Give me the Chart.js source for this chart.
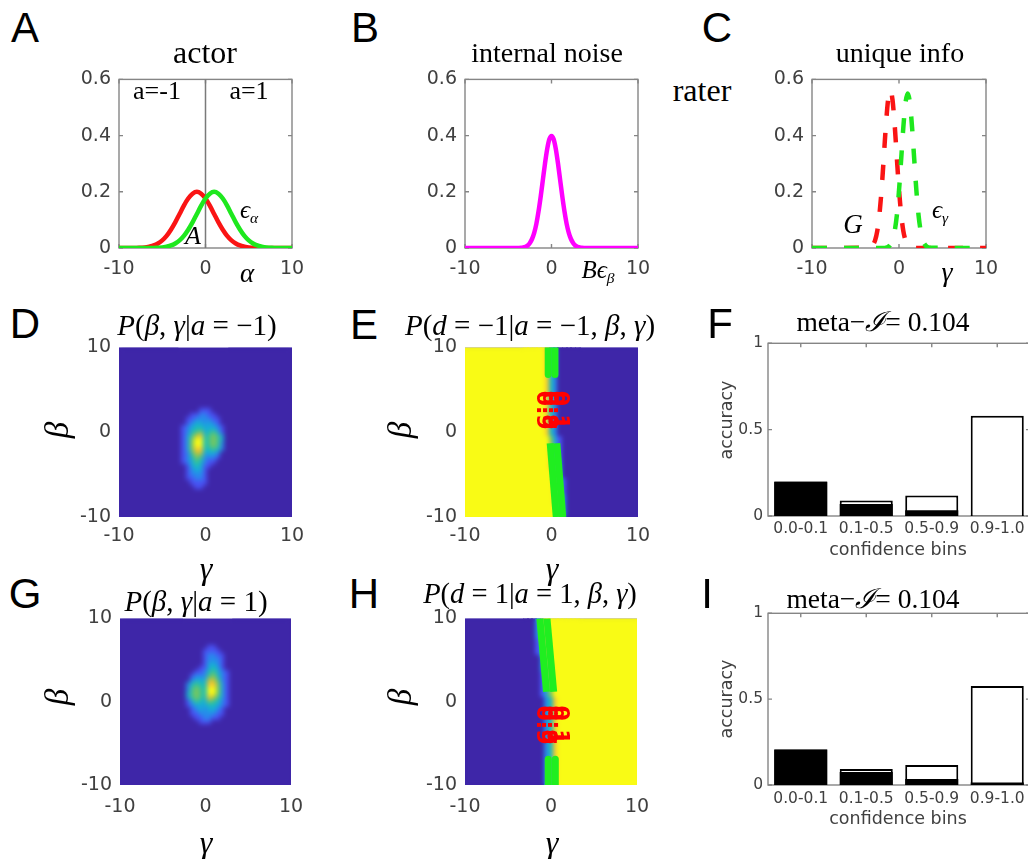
<!DOCTYPE html>
<html><head><meta charset="utf-8">
<script src="https://cdn.jsdelivr.net/npm/chart.js@4.4.0/dist/chart.umd.min.js"></script>
<style>
body{margin:0;background:#fff;width:1028px;height:859px;overflow:hidden;position:relative;}
canvas{position:absolute;}
.c{position:absolute;transform:translate(-50%,-50%);white-space:nowrap;line-height:1;}
.r{transform:translate(-50%,-50%) rotate(-90deg);}
.L{font-family:"Liberation Sans",Arial,sans-serif;font-size:42px;color:#000;}
.s{font-family:"Liberation Serif","Times New Roman",serif;color:#000;}
.g{font-family:"DejaVu Sans",sans-serif;color:#404040;}
sub{font-size:0.62em;vertical-align:-0.3em;}
</style></head><body>
<div class="c L" style="left:25px;top:28px">A</div>
<div class="c L" style="left:365px;top:28px">B</div>
<div class="c L" style="left:717px;top:28px">C</div>
<div class="c L" style="left:25px;top:324px">D</div>
<div class="c L" style="left:364px;top:325px">E</div>
<div class="c L" style="left:720px;top:324px">F</div>
<div class="c L" style="left:25px;top:594px">G</div>
<div class="c L" style="left:364px;top:594px">H</div>
<div class="c L" style="left:707px;top:594px">I</div>

<div class="c s" style="left:205px;top:52px;font-size:32px">actor</div>
<div class="c s" style="left:547px;top:53px;font-size:28px">internal noise</div>
<div class="c s" style="left:900px;top:53px;font-size:28px">unique info</div>
<div class="c s" style="left:702px;top:90px;font-size:32px">rater</div>
<div class="c s" style="left:157px;top:91px;font-size:26px">a=-1</div>
<div class="c s" style="left:249px;top:91px;font-size:26px">a=1</div>
<div class="c s" style="left:193px;top:236px;font-size:26px"><i>A</i></div>
<div class="c s" style="left:249px;top:211px;font-size:25px"><i>ϵ</i><sub><i>α</i></sub></div>
<div class="c s" style="left:247px;top:273px;font-size:27px"><i>α</i></div>
<div class="c s" style="left:598px;top:271px;font-size:25px"><i>B</i><i>ϵ</i><sub><i>β</i></sub></div>
<div class="c s" style="left:853px;top:224px;font-size:27px"><i>G</i></div>
<div class="c s" style="left:940px;top:211px;font-size:25px"><i>ϵ</i><sub><i>γ</i></sub></div>
<div class="c s" style="left:947px;top:272px;font-size:28px"><i>γ</i></div>

<div class="c s" style="left:197px;top:325px;font-size:29px"><i>P</i>(<i>β</i>, <i>γ</i>|<i>a</i> = −1)</div>
<div class="c s" style="left:530px;top:325px;font-size:29px"><i>P</i>(<i>d</i> = −1|<i>a</i> = −1, <i>β</i>, <i>γ</i>)</div>
<div class="c s" style="left:883px;top:322px;font-size:27.5px">meta−<i>ℐ</i>= 0.104</div>
<div class="c s" style="left:196px;top:601px;font-size:29px"><i>P</i>(<i>β</i>, <i>γ</i>|<i>a</i> = 1)</div>
<div class="c s" style="left:530px;top:594px;font-size:28.5px"><i>P</i>(<i>d</i> = 1|<i>a</i> = 1, <i>β</i>, <i>γ</i>)</div>
<div class="c s" style="left:873px;top:599px;font-size:27.5px">meta−<i>ℐ</i>= 0.104</div>

<div class="c s r" style="left:57px;top:430px;font-size:33px"><i>β</i></div>
<div class="c s r" style="left:400px;top:430px;font-size:33px"><i>β</i></div>
<div class="c s r" style="left:57px;top:697px;font-size:33px"><i>β</i></div>
<div class="c s r" style="left:400px;top:697px;font-size:33px"><i>β</i></div>
<div class="c s" style="left:206px;top:568px;font-size:32px"><i>γ</i></div>
<div class="c s" style="left:552px;top:568px;font-size:32px"><i>γ</i></div>
<div class="c s" style="left:206px;top:842px;font-size:32px"><i>γ</i></div>
<div class="c s" style="left:552px;top:842px;font-size:32px"><i>γ</i></div>
<div class="c g r" style="left:727px;top:420px;font-size:17.5px">accuracy</div>
<div class="c g r" style="left:727px;top:699px;font-size:17.5px">accuracy</div>
<div class="c g" style="left:898px;top:550px;font-size:17.5px">confidence bins</div>
<div class="c g" style="left:898px;top:819px;font-size:17.5px">confidence bins</div>

<script>
// ---------------- DATA ----------------
const xA = [-10,-9.5,-9,-8.5,-8,-7.5,-7,-6.5,-6,-5.5,-5,-4.5,-4,-3.5,-3,-2.5,-2,-1.5,-1,-0.5,0,0.5,1,1.5,2,2.5,3,3.5,4,4.5,5,5.5,6,6.5,7,7.5,8,8.5,9,9.5,10];
const redA = [0,0,0,0,0,0.001,0.002,0.005,0.009,0.016,0.027,0.043,0.065,0.091,0.121,0.151,0.176,0.193,0.2,0.193,0.176,0.151,0.121,0.091,0.065,0.043,0.027,0.016,0.009,0.005,0.002,0.001,0,0,0,0,0,0,0,0,0];
const greenA = [0,0,0,0,0,0,0,0,0,0.001,0.002,0.005,0.009,0.016,0.027,0.043,0.065,0.091,0.121,0.151,0.176,0.193,0.2,0.193,0.176,0.151,0.121,0.091,0.065,0.043,0.027,0.016,0.009,0.005,0.002,0.001,0,0,0,0,0];
const dividerX = [0,0];
const dividerY = [0,0.6];

const xB = [-10,-4,-3.5,-3,-2.75,-2.5,-2.25,-2,-1.75,-1.5,-1.25,-1,-0.75,-0.5,-0.25,0,0.25,0.5,0.75,1,1.25,1.5,1.75,2,2.25,2.5,2.75,3,3.5,4,10];
const magB = [0,0,0.001,0.004,0.009,0.018,0.032,0.054,0.086,0.13,0.183,0.242,0.301,0.352,0.387,0.399,0.387,0.352,0.301,0.242,0.183,0.13,0.086,0.054,0.032,0.018,0.009,0.004,0.001,0,0];

const xC = [-10,-3.5,-3.25,-3,-2.75,-2.5,-2.25,-2,-1.75,-1.5,-1.25,-1,-0.75,-0.5,-0.25,0,0.25,0.5,0.75,1,1.25,1.5,1.75,2,2.25,2.5,2.75,3,3.25,3.5,10];
const redC = [0,0.001,0.004,0.011,0.027,0.06,0.119,0.208,0.322,0.439,0.528,0.562,0.528,0.439,0.322,0.208,0.119,0.06,0.027,0.011,0.004,0.001,0,0,0,0,0,0,0,0,0];
const greenC = [0,0,0,0,0,0,0,0,0,0.001,0.004,0.011,0.026,0.059,0.116,0.204,0.316,0.43,0.517,0.55,0.517,0.43,0.316,0.204,0.116,0.059,0.026,0.011,0.004,0.001,0];

// heatmap D: P(beta,gamma|a=-1), levels 0..9
const dGammas = [-3,-2.5,-2,-1.5,-1,-0.5,0,0.5,1,1.5,2,2.5];
const dBetas = [3,2.5,2,1.5,1,0.5,0,-0.5,-1,-1.5,-2,-2.5,-3,-3.5,-4,-4.5,-5,-5.5,-6,-6.5,-7];
const dLevels = [
 '000000000000','000001110000','000112211000','001122221100','001233232100',
 '012344333210','012456345310','013578456530','013699456530','013699456520',
 '013688445420','012577333200','012465222100','012354211000','001343110000',
 '001233100000','001222100000','001122100000','000111100000','000011000000','000000000000'];
const dOutside = [0,0,0];

// heatmap G: P(beta,gamma|a=1)
const gGammas = [-2.5,-2,-1.5,-1,-0.5,0,0.5,1,1.5,2,2.5,3];
const gBetas = [7,6.5,6,5.5,5,4.5,4,3.5,3,2.5,2,1.5,1,0.5,0,-0.5,-1,-1.5,-2,-2.5,-3];
const gLevels = [
 '000000000000','000000110000','000001111000','000001221100','000001222100',
 '000001332100','000011343100','000112453210','001222564210','002333775210',
 '024544886310','025654996310','035654996310','035654875310','013543654210',
 '012333443210','001232332100','001122221100','000112211000','000011100000','000000000000'];
const gOutside = [0,0,0];

// heatmap E: P(d=-1|a=-1,beta,gamma)
const eGammas = [-3,-2.5,-2,-1.5,-1,-0.5,0,0.5,1,1.5,2,2.5,3];
const eBetas = [10,9,8,7,6,5,4,3,2,1,0,-1,-2,-3,-4,-5,-6,-7,-8,-9,-10];
const eLevels = [
 '9999984200000','9999984200000','9999984200000','9999984200000','9999984200000',
 '9999984200000','9999984200000','9999984200000','9999984200000','9999984200000',
 '9999984200000','9999996310000','9999997310000','9999998410000','9999998520000',
 '9999999620000','9999999731000','9999999841000','9999999852000','9999999962000','9999999962000'];
const eOutside = [9,0,0];
const eContourGamma = [[-0.38,-0.38],[0.4,0.4],[-0.15,0.55],[0.62,1.3]];
const eContourBeta = [[10,6.8],[10,6.8],[-1.3,-10],[-1.3,-10]];
const eLabelGamma = [-1.0,-0.35,0.35,1.0];
const eLabelBeta = [2.6,2.6,2.6,2.6];
const eLabelText = ['0.9','0.9','0.1','0.1'];

// heatmap H: P(d=1|a=1,beta,gamma)
const hGammas = [-3,-2.5,-2,-1.5,-1,-0.5,0,0.5,1,1.5,2,2.5,3];
const hBetas = [10,9,8,7,6,5,4,3,2,1,0,-1,-2,-3,-4,-5,-6,-7,-8,-9,-10];
const hLevels = [
 '0002699999999','0002699999999','0002589999999','0001489999999','0001379999999',
 '0000269999999','0000258999999','0000148999999','0000137999999','0000136999999',
 '0000024899999','0000024899999','0000024899999','0000024899999','0000024899999',
 '0000024899999','0000024899999','0000024899999','0000024899999','0000024899999','0000024899999'];
const hOutside = [0,9,0];
const hContourGamma = [[-1.3,-0.52],[-0.47,0.31],[-0.32,-0.32],[0.5,0.5]];
const hContourBeta = [[10,1.2],[10,1.2],[-6.9,-10],[-6.9,-10]];
const hLabelGamma = [-1.0,-0.35,0.35,1.0];
const hLabelBeta = [-2.8,-2.8,-2.8,-2.8];
const hLabelText = ['0.9','0.9','0.1','0.1'];

// bars F and I
const bins = ['0.0-0.1','0.1-0.5','0.5-0.9','0.9-1.0'];
const fTotal = [0.2,0.09,0.119,0.58];
const fCorrect = [0.198,0.069,0.033,0.003];
const iTotal = [0.207,0.093,0.116,0.576];
const iCorrect = [0.207,0.075,0.035,0.015];

// ---------------- RENDERING ----------------
Chart.defaults.animation = false;
Chart.defaults.events = [];
Chart.defaults.plugins.legend.display = false;
Chart.defaults.plugins.tooltip.enabled = false;

const PAR = [[0,62,38,168],[0.11,72,82,244],[0.24,35,145,235],[0.37,18,180,210],[0.49,30,190,175],[0.62,95,200,110],[0.75,175,195,60],[0.87,250,190,50],[1,249,251,21]];
function parula(t){
  t = Math.max(0, Math.min(1, t));
  for (let i = 1; i < PAR.length; i++) {
    if (t <= PAR[i][0]) {
      const a = PAR[i-1], b = PAR[i], f = (t - a[0]) / (b[0] - a[0]);
      return 'rgb(' + [1,2,3].map(k => Math.round(a[k] + (b[k]-a[k])*f)).join(',') + ')';
    }
  }
  return 'rgb(249,251,21)';
}

const heatPlugin = {
  id: 'heat',
  beforeDatasetsDraw(chart, args, o) {
    if (!o || !o.levels) return;
    const {ctx, chartArea: a, scales: {x, y}} = chart;
    ctx.save();
    ctx.beginPath(); ctx.rect(a.left, a.top, a.right - a.left, a.bottom - a.top); ctx.clip();
    const G = o.gammas, B = o.betas;
    const dx = Math.abs(G[1]-G[0]), dy = Math.abs(B[1]-B[0]);
    ctx.fillStyle = parula(o.outside[2]/9);
    ctx.fillRect(a.left, a.top, a.right - a.left, a.bottom - a.top);
    const xl = x.getPixelForValue(G[0] - dx/2), xr = x.getPixelForValue(G[G.length-1] + dx/2);
    ctx.fillStyle = parula(o.outside[0]/9); ctx.fillRect(a.left, a.top, xl - a.left + 1, a.bottom - a.top);
    ctx.fillStyle = parula(o.outside[1]/9); ctx.fillRect(xr - 1, a.top, a.right - xr + 1, a.bottom - a.top);
    for (let i = 0; i < B.length; i++) {
      for (let j = 0; j < G.length; j++) {
        const v = +o.levels[i][j];
        const x0 = x.getPixelForValue(G[j] - dx/2), x1 = x.getPixelForValue(G[j] + dx/2);
        const y0 = y.getPixelForValue(B[i] + dy/2), y1 = y.getPixelForValue(B[i] - dy/2);
        ctx.fillStyle = parula(v/9);
        ctx.fillRect(Math.floor(x0), Math.floor(y0), Math.ceil(x1 - x0) + 1, Math.ceil(y1 - y0) + 1);
      }
    }
    if (o.blur) {
      const L = Math.round(a.left), T = Math.round(a.top);
      const w = Math.round(a.right - a.left), h = Math.round(a.bottom - a.top);
      const off = document.createElement('canvas'); off.width = w; off.height = h;
      off.getContext('2d').drawImage(chart.canvas, L, T, w, h, 0, 0, w, h);
      ctx.filter = 'blur(' + o.blur + 'px)';
      ctx.drawImage(off, L, T);
      ctx.filter = 'none';
    }
    ctx.restore();
  }
};

const labelPlugin = {
  id: 'clabels',
  afterDatasetsDraw(chart, args, o) {
    if (!o || !o.text) return;
    const {ctx, scales: {x, y}} = chart;
    ctx.save();
    ctx.fillStyle = '#ff0000';
    ctx.font = 'bold 22px "DejaVu Sans"';
    ctx.textAlign = 'center'; ctx.textBaseline = 'middle';
    o.text.forEach((t, i) => {
      ctx.save();
      ctx.translate(x.getPixelForValue(o.gammas[i]), y.getPixelForValue(o.betas[i]));
      ctx.rotate(Math.PI/2);
      ctx.fillText(t, 0, 0);
      ctx.restore();
    });
    ctx.restore();
  }
};

const framePlugin = {
  id: 'frame',
  beforeDatasetsDraw(chart, args, o) {
    if (!o || !o.on) return;
    const {ctx, chartArea: a, scales: {x, y}} = chart;
    ctx.save();
    ctx.strokeStyle = '#858585'; ctx.lineWidth = 1.4;
    ctx.strokeRect(a.left, a.top, a.right - a.left, a.bottom - a.top);
    ctx.beginPath();
    x.ticks.forEach((t, i) => { const p = x.getPixelForTick(i);
      ctx.moveTo(p, a.bottom); ctx.lineTo(p, a.bottom - 4); ctx.moveTo(p, a.top); ctx.lineTo(p, a.top + 4); });
    y.ticks.forEach((t, i) => { const p = y.getPixelForTick(i);
      ctx.moveTo(a.left, p); ctx.lineTo(a.left + 4, p); ctx.moveTo(a.right, p); ctx.lineTo(a.right - 4, p); });
    ctx.stroke();
    ctx.restore();
  }
};

const PL = 70, PT = 14, PR = 24, PB = 45;
function mount(rect) {
  const c = document.createElement('canvas');
  const w = (rect[2] - rect[0]) + PL + PR, h = (rect[3] - rect[1]) + PT + PB;
  c.width = w; c.height = h;
  c.style.left = (rect[0] - PL) + 'px'; c.style.top = (rect[1] - PT) + 'px';
  c.style.width = w + 'px'; c.style.height = h + 'px';
  document.body.insertBefore(c, document.body.firstChild);
  return c;
}
function scale(axis, min, max, step, pad, size, extra) {
  return Object.assign({
    type: 'linear', min, max,
    ticks: {stepSize: step, padding: pad, color: '#404040', font: {family: 'DejaVu Sans', size}, autoSkip: false, maxRotation: 0,
      callback: v => String(Math.round(v * 100) / 100)},
    grid: {display: false, drawTicks: false}, border: {display: false},
    afterFit(s) { if (axis === 'x') s.height = PB; else s.width = PL; }
  }, extra || {});
}
function pts(xs, ys) { return xs.map((v, i) => ({x: v, y: ys[i]})); }
function lineDS(xs, ys, color, width, dash) {
  return {data: pts(xs, ys), borderColor: color, borderWidth: width, borderDash: dash || [], pointRadius: 0,
    showLine: true, fill: false, cubicInterpolationMode: 'monotone', borderCapStyle: dash ? 'butt' : 'round', borderJoinStyle: 'round'};
}
const layout = {padding: {left: 0, top: PT, right: PR, bottom: 0}};

function curveChart(rect, datasets, xpad) {
  new Chart(mount(rect), {
    type: 'scatter',
    data: {datasets},
    options: {responsive: false, layout,
      scales: {x: scale('x', -10, 10, 10, xpad, 19), y: scale('y', 0, 0.6, 0.2, 8, 19)},
      plugins: {frame: {on: true}}},
    plugins: [framePlugin]
  });
}
curveChart([119,74,292,248], [
  lineDS(xA, greenA, 'rgb(30,232,30)', 4.5),
  lineDS(xA, redA, 'rgb(250,20,20)', 4.5),
  Object.assign(lineDS(dividerX, dividerY, '#7a7a7a', 1.5), {cubicInterpolationMode: 'default'})
], 10);
curveChart([465,74,638,248], [lineDS(xB, magB, 'rgb(255,0,255)', 4.5)], 10);
curveChart([812,74,986,248], [
  lineDS(xC, greenC, 'rgb(30,232,30)', 4.5, [15,17]),
  lineDS(xC, redC, 'rgb(250,20,20)', 4.5, [15,17])
], 10);

function heatChart(rect, heat, contoursG, contoursB, labels, xpad) {
  const datasets = (contoursG || []).map((g, i) => Object.assign(lineDS(g, contoursB[i], 'rgb(32,238,32)', 7), {cubicInterpolationMode: 'default', borderCapStyle: 'butt'}));
  new Chart(mount(rect), {
    type: 'scatter',
    data: {datasets},
    options: {responsive: false, layout,
      scales: {x: scale('x', -10, 10, 10, xpad, 19), y: scale('y', -10, 10, 10, 8, 19)},
      plugins: {heat, clabels: labels || {}}},
    plugins: [heatPlugin, labelPlugin]
  });
}
heatChart([119,342,292,517], {gammas: dGammas, betas: dBetas, levels: dLevels, outside: dOutside, blur: 2.5}, null, null, null, 8);
heatChart([465,342,638,517], {gammas: eGammas, betas: eBetas, levels: eLevels, outside: eOutside, blur: 2},
  eContourGamma, eContourBeta, {gammas: eLabelGamma, betas: eLabelBeta, text: eLabelText}, 8);
heatChart([120,613,291,785], {gammas: gGammas, betas: gBetas, levels: gLevels, outside: gOutside, blur: 2.5}, null, null, null, 11);
heatChart([465,613,637,785], {gammas: hGammas, betas: hBetas, levels: hLevels, outside: hOutside, blur: 2},
  hContourGamma, hContourBeta, {gammas: hLabelGamma, betas: hLabelBeta, text: hLabelText}, 11);

function barChart(rect, total, correct, xpad) {
  new Chart(mount(rect), {
    type: 'bar',
    data: {labels: bins, datasets: [
      {data: correct, backgroundColor: '#000', borderWidth: 0, grouped: false, barPercentage: 0.81, categoryPercentage: 1},
      {data: total, backgroundColor: '#fff', borderColor: '#000', borderWidth: 2, grouped: false, barPercentage: 0.81, categoryPercentage: 1}
    ]},
    options: {responsive: false, layout,
      scales: {
        x: {type: 'category', offset: true, ticks: {padding: xpad, color: '#404040', font: {family: 'DejaVu Sans', size: 15.5}, autoSkip: false, maxRotation: 0},
            grid: {display: false, drawTicks: false}, border: {display: false}, afterFit(s) { s.height = PB; }},
        y: scale('y', 0, 1, 0.5, 5, 15.5)
      },
      plugins: {frame: {on: true}}},
    plugins: [framePlugin]
  });
}
barChart([768,343,1030,516], fTotal, fCorrect, 4);
barChart([768,613,1030,785], iTotal, iCorrect, 5);
</script>
</body></html>
